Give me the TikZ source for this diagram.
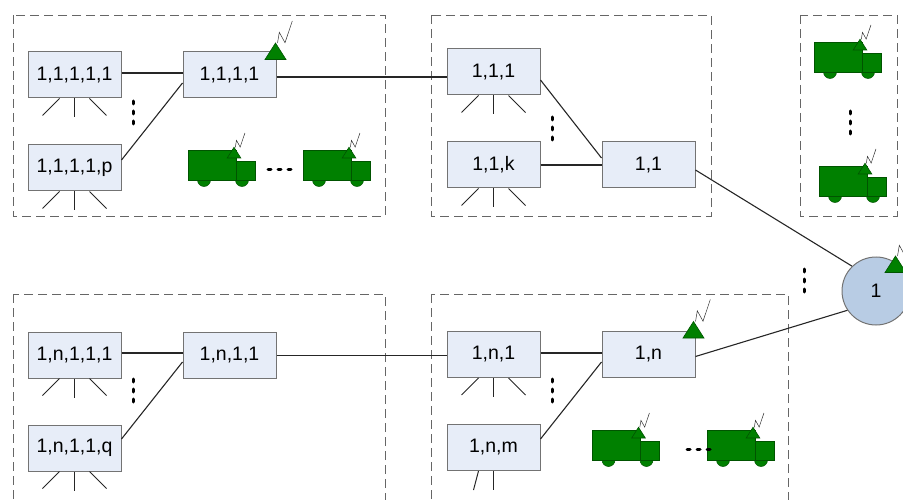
\documentclass[tikz,border=0pt]{standalone}
\usepackage{fontspec}
\setmainfont{Liberation Sans}
\definecolor{antgreen}{HTML}{008000}
\definecolor{truckline}{HTML}{005400}
\definecolor{boxblue}{HTML}{E7EDF8}
\definecolor{rootblue}{HTML}{B8CCE4}
\tikzset{
    station/.style={draw=black!55, line width=1pt, fill=boxblue, minimum width=93pt, minimum height=46pt, inner sep=0pt, font=\fontsize{19.5}{22}\selectfont},
    root/.style={draw=black!55, line width=1pt, fill=rootblue, circle, minimum size=68pt, inner sep=0pt, font=\fontsize{19.5}{22}\selectfont},
    cluster/.style={draw=black!60, line width=0.9pt, dash pattern=on 9pt off 5pt},
    link/.style={black!85, line width=1.1pt},
    leg/.style={black!85, line width=1pt},
    dots/.style={line width=3pt, line cap=round, dash pattern=on 3pt off 7pt},
    antenna/.pic={
        \draw[black!80, line width=0.5pt] (2,-16.5) -- (3.8,-27.2) -- (9.5,-16.8) -- (16.8,-38.5);
        \draw[fill=antgreen, draw=truckline, line width=0.6pt] (-10.5,0) -- (0,-16.5) -- (10.5,0) -- cycle;
    },
    truck/.pic={
        \draw[fill=antgreen, draw=truckline, line width=0.5pt] (16,30) circle (6.5) (54,30) circle (6.5);
        \draw[fill=antgreen, draw=truckline, line width=0.5pt] (48,11) rectangle (67,30);
        \draw[fill=antgreen, draw=truckline, line width=0.5pt] (0,0) rectangle (48,30);
        \pic[scale=0.65] at (46,8) {antenna};
    }
}
\begin{document}
\begin{tikzpicture}[x=1pt, y=-1pt]
    \clip (0,0) rectangle (903,500);

    % dashed groups
    \draw[cluster] (13,15) rectangle (385,216);
    \draw[cluster] (431,15) rectangle (711,216);
    \draw[cluster] (800,15) rectangle (897,216);
    \draw[cluster] (13,294) rectangle (385,520);
    \draw[cluster] (431,294) rectangle (788,520);

    % stations, top row
    \node[station] (s11111) at (74.5,75) {1,1,1,1,1};
    \node[station] (s1111p) at (74.5,168) {1,1,1,1,p};
    \node[station] (s1111) at (229.5,75) {1,1,1,1};
    \node[station] (s111) at (493.5,72) {1,1,1};
    \node[station] (s11k) at (493.5,165) {1,1,k};
    \node[station] (s11) at (648.5,165) {1,1};

    % stations, bottom row
    \node[station] (sn1111) at (74.5,355) {1,n,1,1,1};
    \node[station] (sn111q) at (74.5,448) {1,n,1,1,q};
    \node[station] (sn111) at (229.5,355) {1,n,1,1};
    \node[station] (sn1) at (493.5,354.5) {1,n,1};
    \node[station] (snm) at (493.5,447.5) {1,n,m};
    \node[station] (sn) at (648.5,354.5) {1,n};

    \node[root] (r1) at (876,291) {1};

    % links
    \draw[link] ([yshift=2pt]s11111.east) -- ([yshift=2pt]s1111.west);
    \draw[link] ([yshift=8pt]s1111p.east) -- ([yshift=-8pt]s1111.west);
    \draw[link] ([yshift=-2pt]s1111.east) -- ([yshift=-5pt]s111.west);
    \draw[link] ([yshift=-8pt]s111.east) -- ([yshift=7pt]s11.west);
    \draw[link] (s11k.east) -- (s11.west);
    \draw[link] ([yshift=-5pt]s11.east) -- (r1.134);
    \draw[link] ([yshift=2pt]sn1111.east) -- ([yshift=2pt]sn111.west);
    \draw[link] ([yshift=9pt]sn111q.east) -- ([yshift=-7pt]sn111.west);
    \draw[link] ([yshift=-0.7pt]sn111.east) -- ([yshift=-1.2pt]sn1.west);
    \draw[link] ([yshift=1.5pt]sn1.east) -- ([yshift=1.5pt]sn.west);
    \draw[link] ([yshift=8.5pt]snm.east) -- ([yshift=-7.5pt]sn.west);
    \draw[link] ([yshift=-2pt]sn.east) -- (r1.214);

    % legs under the stations
    \foreach \st in {s11111,s1111p,s111,s11k,sn1111,sn111q,sn1} {
        \draw[leg] ([xshift=-15pt]\st.south) -- ++(-17,17);
        \draw[leg] (\st.south) -- ++(0,19);
        \draw[leg] ([xshift=15pt]\st.south) -- ++(17,17);
    }
    \draw[leg] ([xshift=-15pt]snm.south) -- ++(-5,19);
    \draw[leg] (snm.south) -- ++(0,19);

    % trucks
    \pic at (188,150) {truck};
    \pic at (303,150) {truck};
    \pic at (814,42) {truck};
    \pic at (819,166) {truck};
    \pic at (592.5,430) {truck};
    \pic at (707,430) {truck};

    % antennas
    \pic at (275.5,59.5) {antenna};
    \pic at (693.5,338) {antenna};
    \pic at (895.5,272.5) {antenna};

    % dots
    \draw[dots] (133.5,101) -- (133.5,125);
    \draw[dots] (552,117) -- (552,141);
    \draw[dots] (850,111) -- (850,135);
    \draw[dots] (804,269) -- (804,293);
    \draw[dots] (133.5,379) -- (133.5,403);
    \draw[dots] (552,379) -- (552,403);
    \draw[dots] (268,170) -- (292,170);
    \draw[dots] (687,449) -- (711,449);
\end{tikzpicture}
\end{document}
